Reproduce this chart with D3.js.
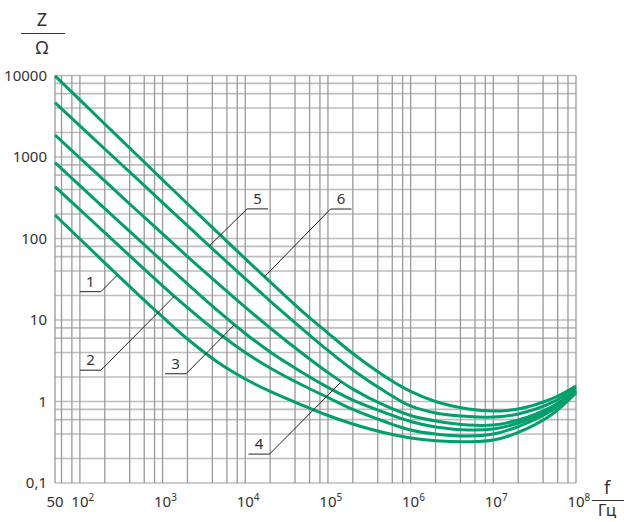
<!DOCTYPE html>
<html>
<head>
<meta charset="utf-8">
<script src="https://cdn.jsdelivr.net/npm/d3@7"></script>
<style>
  body { margin: 0; background: #fff; }
  text { font-family: "Noto Sans", sans-serif; fill: #333; }
</style>
</head>
<body>
<svg id="chart" width="624" height="522"></svg>
<script>
const freqs = [50, 100, 200, 500, 1e3, 2e3, 5e3, 1e4, 2e4, 5e4, 1e5, 2e5, 5e5, 1e6, 2e6, 5e6, 1e7, 2e7, 5e7, 1e8];

// impedance (Ohm) of each curve at those frequencies
const curve1 = [194, 98.6, 50.3, 20.8, 10.9, 5.85, 2.88, 1.89, 1.33, 0.893, 0.673, 0.53, 0.41, 0.356, 0.33, 0.321, 0.337, 0.417, 0.683, 1.27];
const curve2 = [432, 225.6, 117.8, 50, 26.3, 14.2, 6.64, 3.99, 2.58, 1.57, 1.12, 0.798, 0.56, 0.447, 0.399, 0.377, 0.399, 0.493, 0.764, 1.31];
const curve3 = [851, 446, 233, 99.5, 52.2, 27.7, 12.2, 6.83, 4.05, 2.24, 1.49, 1.04, 0.723, 0.569, 0.486, 0.447, 0.46, 0.545, 0.81, 1.35];
const curve4 = [1862, 972, 508, 216, 114, 60.1, 26.5, 14.4, 7.98, 3.83, 2.27, 1.42, 0.881, 0.673, 0.577, 0.515, 0.515, 0.593, 0.857, 1.38];
const curve5 = [4640, 2415, 1253, 530, 275, 143.6, 61, 32.1, 17.1, 7.64, 4.23, 2.44, 1.31, 0.881, 0.723, 0.655, 0.645, 0.703, 0.96, 1.47];
const curve6 = [9900, 5030, 2540, 1035, 525, 267, 110, 56.5, 29.3, 12.5, 6.92, 3.88, 2.0, 1.33, 1.0, 0.81, 0.764, 0.81, 1.07, 1.55];

const curveNames = ['1', '2', '3', '4', '5', '6'];
// frequency where each leader line touches its curve
const labelFreqs = [285, 1385, 7390, 145000, 3680, 17100];

const xTickValues = [50, 1e2, 1e3, 1e4, 1e5, 1e6, 1e7, 1e8];
const xTickLabels = ['50', '10', '10', '10', '10', '10', '10', '10'];
const xTickSups = ['', '2', '3', '4', '5', '6', '7', '8'];
const yTickValues = [0.1, 1, 10, 100, 1000, 10000];
const yTickLabels = ['0,1', '1', '10', '100', '1000', '10000'];
const gridSteps = [1, 2, 4, 6, 8];

const svg = d3.select('#chart');
const green = '#00a06c';

const x = d3.scaleLog().domain([50, 1e8]).range([55, 576]);
const y = d3.scaleLog().domain([0.1, 10000]).range([483, 75.5]);

// grid values
let xGrid = [50, 60, 80];
for (let k = 2; k <= 7; k++) gridSteps.forEach(m => xGrid.push(m * Math.pow(10, k)));
xGrid.push(1e8);
let yGrid = [];
for (let k = -1; k <= 3; k++) gridSteps.forEach(m => yGrid.push(m * Math.pow(10, k)));
yGrid.push(10000);

const grid = svg.append('g');
grid.selectAll('line.h')
  .data(yGrid)
  .join('line')
  .attr('class', 'h')
  .attr('x1', x(50)).attr('x2', x(1e8))
  .attr('y1', d => y(d)).attr('y2', d => y(d))
  .attr('stroke', '#bdbdbd')
  .attr('stroke-width', 1.6);
grid.selectAll('line.v')
  .data(xGrid)
  .join('line')
  .attr('class', 'v')
  .attr('x1', d => x(d)).attr('x2', d => x(d))
  .attr('y1', y(0.1)).attr('y2', y(10000))
  .attr('stroke', '#9a9a9a')
  .attr('stroke-width', 1.3);

// y tick labels
svg.append('g').selectAll('text')
  .data(yTickValues)
  .join('text')
  .attr('x', 47)
  .attr('y', d => y(d))
  .attr('dy', '0.35em')
  .attr('text-anchor', 'end')
  .attr('font-size', 15)
  .text((d, i) => yTickLabels[i]);

// x tick labels, "10" centred on the tick with superscript exponent
const xt = svg.append('g').selectAll('text')
  .data(xTickValues)
  .join('text')
  .attr('y', 507)
  .attr('font-size', 15);
xt.each(function (d, i) {
  const t = d3.select(this);
  t.append('tspan').text(xTickLabels[i]);
  if (xTickSups[i]) {
    t.append('tspan').attr('font-size', 10).attr('dy', -6).text(xTickSups[i]);
  }
  const w = this.firstChild.getComputedTextLength();
  t.attr('x', x(d) - w / 2);
});

// curves
const series = [curve1, curve2, curve3, curve4, curve5, curve6];
const line = d3.line()
  .x((d, i) => x(freqs[i]))
  .y(d => y(d))
  .curve(d3.curveCatmullRom.alpha(0.5));

const paths = svg.append('g').selectAll('path')
  .data(series)
  .join('path')
  .attr('fill', 'none')
  .attr('stroke', green)
  .attr('stroke-width', 3)
  .attr('d', line);

function pointAtX(node, px) {
  let lo = 0, hi = node.getTotalLength();
  for (let i = 0; i < 40; i++) {
    const mid = (lo + hi) / 2;
    if (node.getPointAtLength(mid).x < px) lo = mid; else hi = mid;
  }
  return node.getPointAtLength(lo);
}

// leader lines with numbers; offsets from the curve point to the underline corner
const leaders = [
  { dx: -16.6, dy: 16.7, side: 'left' },
  { dx: -73.3, dy: 74, side: 'left' },
  { dx: -48.3, dy: 49, side: 'left' },
  { dx: -71.7, dy: 72.3, side: 'left' },
  { dx: 37.7, dy: -37, side: 'right' },
  { dx: 66, dy: -67.7, side: 'right' }
];
const ann = svg.append('g');
paths.each(function (d, i) {
  const p = pointAtX(this, x(labelFreqs[i]));
  const L = leaders[i];
  const cx = p.x + L.dx, cy = p.y + L.dy;
  const len = 21;
  const x2 = L.side === 'left' ? cx - len : cx + len;
  ann.append('path')
    .attr('d', `M${p.x},${p.y}L${cx},${cy}L${x2},${cy}`)
    .attr('fill', 'none')
    .attr('stroke', '#222')
    .attr('stroke-width', 1);
  ann.append('text')
    .attr('x', (cx + x2) / 2)
    .attr('y', cy - 5)
    .attr('text-anchor', 'middle')
    .attr('font-size', 15)
    .text(curveNames[i]);
});

// axis titles as fractions
const titles = svg.append('g');
titles.append('text').attr('x', 42).attr('y', 26).attr('text-anchor', 'middle').attr('font-size', 18).text('Z');
titles.append('line').attr('x1', 21).attr('x2', 65).attr('y1', 33.5).attr('y2', 33.5).attr('stroke', '#333').attr('stroke-width', 1);
titles.append('text').attr('x', 42).attr('y', 54).attr('text-anchor', 'middle').attr('font-size', 18).text('Ω');

titles.append('text').attr('x', 607).attr('y', 494).attr('text-anchor', 'middle').attr('font-size', 18).text('f');
titles.append('line').attr('x1', 592).attr('x2', 624).attr('y1', 500.5).attr('y2', 500.5).attr('stroke', '#333').attr('stroke-width', 1);
titles.append('text').attr('x', 607).attr('y', 516).attr('text-anchor', 'middle').attr('font-size', 17).text('Гц');
</script>
</body>
</html>
